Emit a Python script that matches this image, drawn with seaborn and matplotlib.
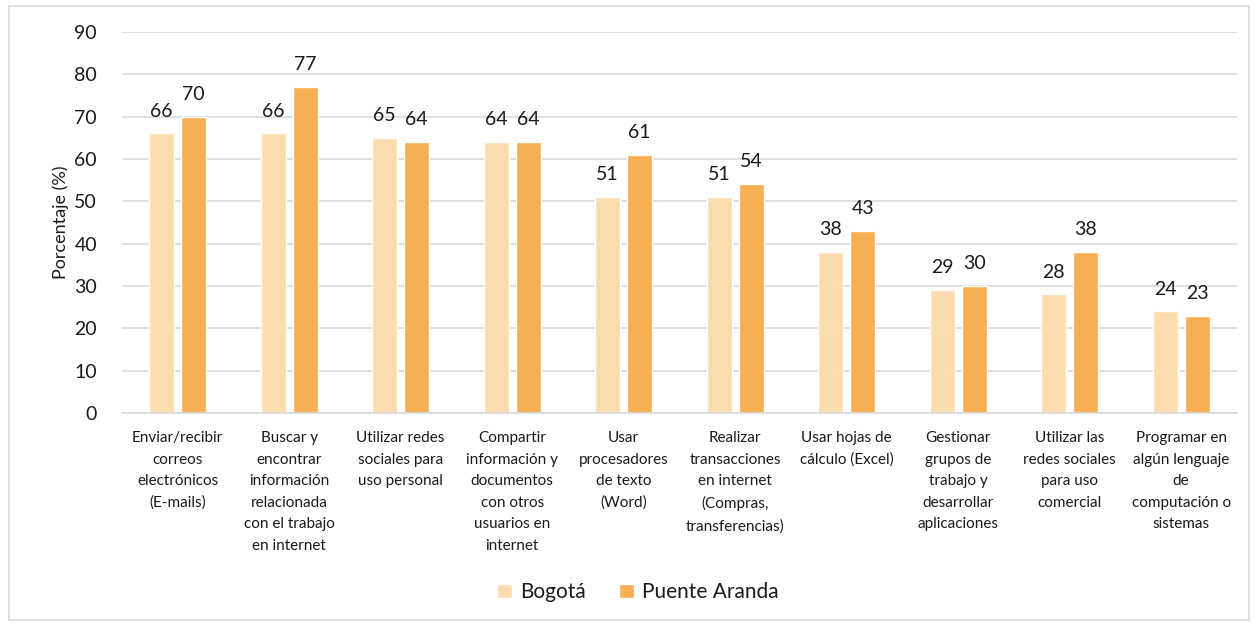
import pandas as pd
import matplotlib.pyplot as plt
import seaborn as sns
from matplotlib.patches import Rectangle

sns.set_theme(style="white")
plt.rcParams['font.family'] = ['Lato', 'DejaVu Sans']

# data
categorias = [
    "Enviar/recibir\ncorreos\nelectrónicos\n(E-mails)",
    "Buscar y\nencontrar\ninformación\nrelacionada\ncon el trabajo\nen internet",
    "Utilizar redes\nsociales para\nuso personal",
    "Compartir\ninformación y\ndocumentos\ncon otros\nusuarios en\ninternet",
    "Usar\nprocesadores\nde texto\n(Word)",
    "Realizar\ntransacciones\nen internet\n(Compras,\ntransferencias)",
    "Usar hojas de\ncálculo (Excel)",
    "Gestionar\ngrupos de\ntrabajo y\ndesarrollar\naplicaciones",
    "Utilizar las\nredes sociales\npara uso\ncomercial",
    "Programar en\nalgún lenguaje\nde\ncomputación o\nsistemas",
]
bogota = [66, 66, 65, 64, 51, 51, 38, 29, 28, 24]
puente_aranda = [70, 77, 64, 64, 61, 54, 43, 30, 38, 23]
series = ["Bogotá", "Puente Aranda"]
colores = ["#FCDBAE", "#F6AF53"]

df = pd.DataFrame({
    "categoria": categorias * 2,
    "valor": bogota + puente_aranda,
    "serie": [series[0]] * len(categorias) + [series[1]] * len(categorias),
})

fig = plt.figure(figsize=(12.57, 6.24), dpi=100)
ax = fig.add_axes([0.097, 0.338, 0.887, 0.611])

sns.barplot(data=df, x="categoria", y="valor", hue="serie",
            palette=colores, saturation=1, width=0.574, gap=0.22, ax=ax, legend=True)

for cont in ax.containers:
    ax.bar_label(cont, fmt="%d", padding=10, fontsize=14, color="#1a1a1a")

ax.set_ylim(0, 90)
ax.set_yticks(range(0, 91, 10))
ax.set_xlim(-0.5, len(categorias) - 0.5)
ax.yaxis.grid(True, color="#d9d9d9", linewidth=1.2)
ax.set_axisbelow(True)
for s in ["top", "right", "left"]:
    ax.spines[s].set_visible(False)
ax.spines["bottom"].set_color("#d9d9d9")
ax.spines["bottom"].set_linewidth(1.2)

ax.tick_params(axis="y", labelsize=14, labelcolor="#1a1a1a", length=0, pad=18)
ax.tick_params(axis="x", labelsize=11, labelcolor="#1a1a1a", length=0, pad=13)
for lbl in ax.get_xticklabels():
    lbl.set_linespacing(1.68)
ax.set_xlabel("")
ax.set_ylabel("Porcentaje (%)", fontsize=13, color="#1a1a1a", labelpad=4)

leg = ax.legend(loc="center", bbox_to_anchor=(0.463, -0.47), ncol=2, frameon=False,
                fontsize=15, handlelength=0.7, handleheight=0.7, columnspacing=1.6,
                handletextpad=0.4)
for t in leg.get_texts():
    t.set_color("#1a1a1a")

# light frame around the whole chart
fig.patches.append(Rectangle((0.007, 0.006), 0.987, 0.985, transform=fig.transFigure,
                             fill=False, edgecolor="#d9d9d9", linewidth=1.2))

fig.savefig("out.png", dpi=100)
